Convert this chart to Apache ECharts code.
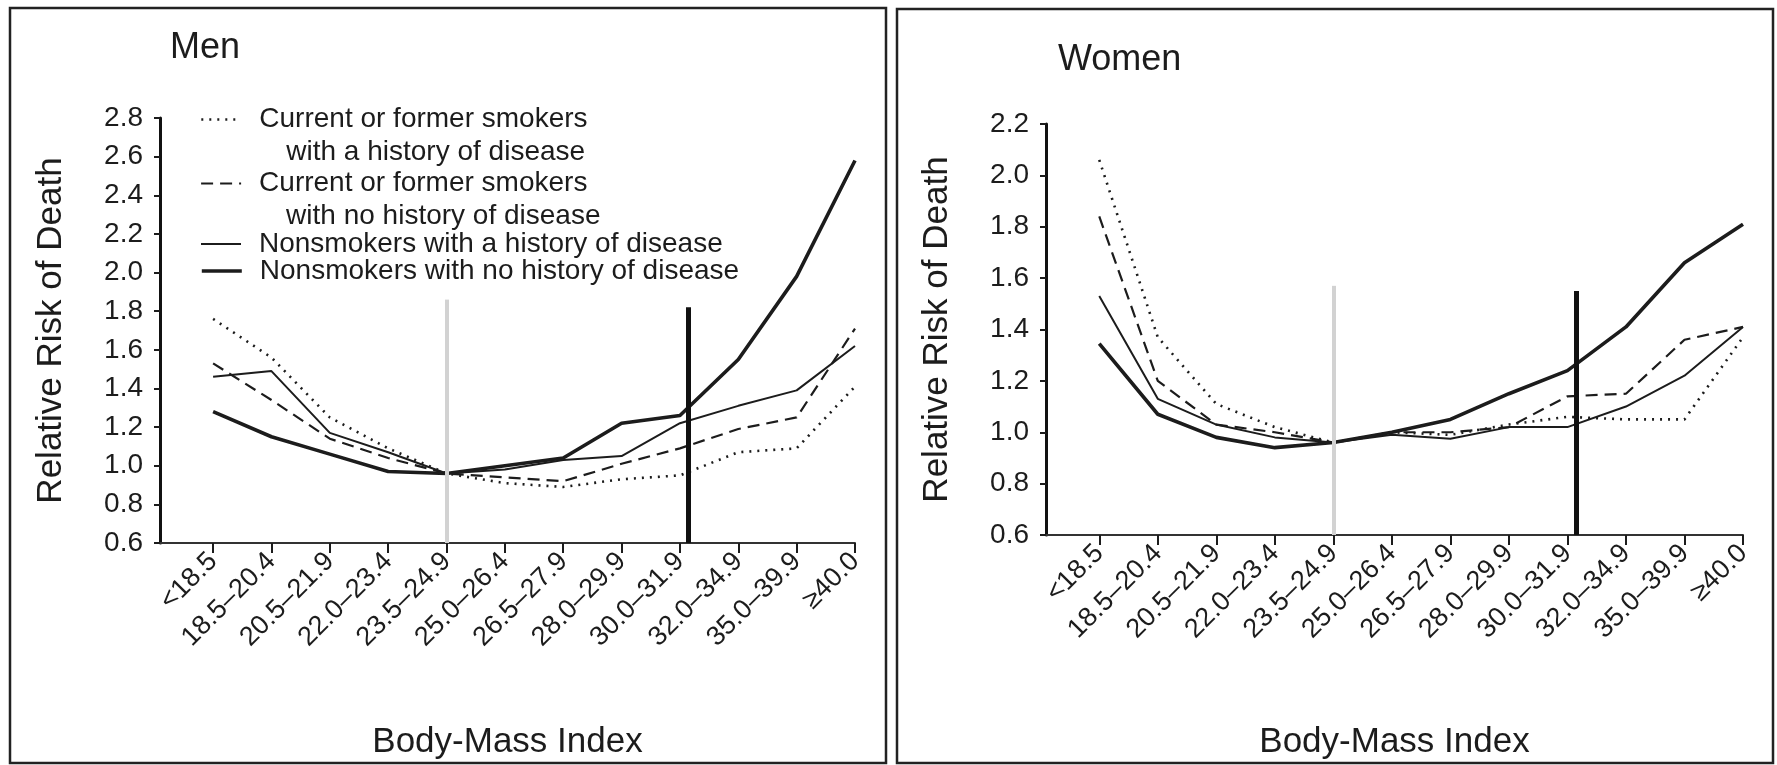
<!DOCTYPE html>
<html>
<head>
<meta charset="utf-8">
<script src="https://cdn.jsdelivr.net/npm/echarts@6/dist/echarts.min.js"></script>
<style>
  html, body { margin: 0; padding: 0; background: #ffffff; }
  #chart { width: 1777px; height: 765px; }
</style>
</head>
<body>
<div id="chart"></div>
<script>
// BMI categories (x axis)
const categories = ['<18.5', '18.5\u201320.4', '20.5\u201321.9', '22.0\u201323.4', '23.5\u201324.9',
  '25.0\u201326.4', '26.5\u201327.9', '28.0\u201329.9', '30.0\u201331.9', '32.0\u201334.9',
  '35.0\u201339.9', '\u226540.0'];

// Group names
const groupNames = [
  'Current or former smokers with a history of disease',
  'Current or former smokers with no history of disease',
  'Nonsmokers with a history of disease',
  'Nonsmokers with no history of disease'
];

// Men: relative risk of death by BMI category
const menSmokersDisease     = [1.76, 1.56, 1.25, 1.09, 0.96, 0.91, 0.89, 0.93, 0.95, 1.07, 1.09, 1.41];
const menSmokersNoDisease   = [1.53, 1.34, 1.14, 1.04, 0.96, 0.94, 0.92, 1.01, 1.09, 1.19, 1.25, 1.71];
const menNonsmokersDisease  = [1.46, 1.49, 1.17, 1.07, 0.96, 0.98, 1.03, 1.05, 1.22, 1.31, 1.39, 1.62];
const menNonsmokersNoDisease= [1.28, 1.15, 1.06, 0.97, 0.96, 1.00, 1.04, 1.22, 1.26, 1.55, 1.98, 2.58];

// Women: relative risk of death by BMI category
const womenSmokersDisease     = [2.06, 1.37, 1.11, 1.02, 0.96, 1.00, 0.99, 1.03, 1.06, 1.05, 1.05, 1.37];
const womenSmokersNoDisease   = [1.84, 1.20, 1.03, 1.00, 0.96, 1.00, 1.00, 1.02, 1.14, 1.15, 1.36, 1.41];
const womenNonsmokersDisease  = [1.53, 1.13, 1.03, 0.98, 0.96, 0.99, 0.975, 1.02, 1.02, 1.10, 1.22, 1.41];
const womenNonsmokersNoDisease= [1.345, 1.07, 0.98, 0.94, 0.96, 1.00, 1.05, 1.15, 1.24, 1.41, 1.66, 1.81];

// Y axis ranges
const menYRange = [0.6, 2.8];
const womenYRange = [0.6, 2.2];
const yStep = 0.2;

// Reference markers: reference BMI band and the obesity threshold bar
const referenceIndex = 4;       // 23.5–24.9
const thresholdIndex = 8.15;    // just past 30.0
const menMarkerTops = { reference: 1.86, threshold: 1.82 };
const womenMarkerTops = { reference: 1.57, threshold: 1.55 };

const FONT = "'Liberation Sans', Arial, Helvetica, sans-serif";
const INK = '#1c1c1c';

const lineStyles = [
  { type: [2, 6], width: 2.6, color: INK },
  { type: [12, 7], width: 2.2, color: INK },
  { type: 'solid', width: 2.0, color: INK },
  { type: 'solid', width: 3.6, color: INK }
];

const tickIdx = categories.map((_, i) => i);

function xAxisFor(gridIndex, nameGap) {
  return {
    type: 'value', gridIndex: gridIndex, min: -0.91, max: 11,
    name: 'Body-Mass Index', nameLocation: 'middle', nameGap: nameGap,
    nameTextStyle: { fontFamily: FONT, fontSize: 35, color: INK },
    axisLine: { show: true, onZero: false, lineStyle: { color: '#333', width: 2 } },
    axisTick: { show: true, customValues: tickIdx, length: 10, lineStyle: { color: INK, width: 2 } },
    axisLabel: {
      customValues: tickIdx, rotate: 45, margin: 14,
      fontFamily: FONT, fontSize: 27, color: INK,
      formatter: v => categories[Math.round(v)] || ''
    },
    splitLine: { show: false }
  };
}

function yAxisFor(gridIndex, range) {
  return {
    type: 'value', gridIndex: gridIndex, min: range[0], max: range[1], interval: yStep,
    name: 'Relative Risk of Death', nameLocation: 'middle', nameGap: 91,
    nameTextStyle: { fontFamily: FONT, fontSize: 35, color: INK },
    axisLine: { show: true, onZero: false, lineStyle: { color: '#111', width: 3 } },
    axisTick: { show: true, length: 6, lineStyle: { color: INK, width: 2 } },
    axisLabel: { margin: 17, fontFamily: FONT, fontSize: 28, color: INK,
      formatter: v => v.toFixed(1) },
    splitLine: { show: false }
  };
}

function markersFor(tops) {
  return {
    silent: true, symbol: 'none', label: { show: false }, animation: false,
    data: [
      [ { coord: [referenceIndex, 0.6], lineStyle: { color: '#d2d2d2', width: 4, type: 'solid' } },
        { coord: [referenceIndex, tops.reference] } ],
      [ { coord: [thresholdIndex, 0.6], lineStyle: { color: '#111', width: 5, type: 'solid' } },
        { coord: [thresholdIndex, tops.threshold] } ]
    ]
  };
}

function seriesFor(gridIndex, arrays, tops) {
  return arrays.map((arr, k) => {
    const s = {
      type: 'line', name: groupNames[k], xAxisIndex: gridIndex, yAxisIndex: gridIndex,
      data: arr.map((v, i) => [i, v]),
      symbol: 'none', showSymbol: false, smooth: false,
      lineStyle: lineStyles[k], itemStyle: { color: INK },
      z: 3
    };
    if (k === 0) s.markLine = markersFor(tops);
    return s;
  });
}

const menSeries = seriesFor(0, [menSmokersDisease, menSmokersNoDisease, menNonsmokersDisease, menNonsmokersNoDisease], menMarkerTops);
const womenSeries = seriesFor(1, [womenSmokersDisease, womenSmokersNoDisease, womenNonsmokersDisease, womenNonsmokersNoDisease], womenMarkerTops);

// Legend: one block per group so each sample line sits beside its first text line
const legendLines = [
  ['Current or former smokers', 'with a history of disease'],
  ['Current or former smokers', 'with no history of disease'],
  ['Nonsmokers with a history of disease'],
  ['Nonsmokers with no history of disease']
];
const legendTops = [105.5, 169.5, 230, 257];
const L2 = 33, L1 = 30;
const legends = groupNames.map((name, k) => {
  const lines = legendLines[k];
  const two = lines.length === 2;
  return {
    data: [name], left: 200, top: legendTops[k], padding: 0,
    orient: 'vertical', selectedMode: false,
    itemWidth: 40, itemHeight: 14,
    itemStyle: { opacity: 0 },
    lineStyle: { width: 'inherit', type: 'inherit', color: 'inherit' },
    formatter: () => two ? '{a|' + lines[0] + '}\n{b|' + lines[1] + '}' : '{a|' + lines[0] + '}',
    textStyle: {
      fontFamily: FONT, fontSize: 28, color: INK,
      padding: two ? [L2, 0, 0, 13] : [0, 0, 0, 13],
      rich: {
        a: { fontFamily: FONT, fontSize: 28, color: INK, lineHeight: two ? L2 : L1 },
        b: { fontFamily: FONT, fontSize: 28, color: INK, lineHeight: L2, padding: [0, 0, 0, 27] }
      }
    }
  };
});

const chart = echarts.init(document.getElementById('chart'), null, { renderer: 'canvas' });
chart.setOption({
  backgroundColor: '#ffffff',
  animation: false,
  textStyle: { fontFamily: FONT },
  title: [
    { text: 'Men', left: 165, top: 25, textStyle: { fontFamily: FONT, fontSize: 36, fontWeight: 'normal', color: INK } },
    { text: 'Women', left: 1053, top: 37, textStyle: { fontFamily: FONT, fontSize: 36, fontWeight: 'normal', color: INK } }
  ],
  legend: legends,
  grid: [
    { left: 160, top: 118, width: 695, height: 425 },
    { left: 1046, top: 124, width: 697, height: 411 }
  ],
  xAxis: [xAxisFor(0, 182), xAxisFor(1, 190)],
  yAxis: [yAxisFor(0, menYRange), yAxisFor(1, womenYRange)],
  series: menSeries.concat(womenSeries),
  graphic: [
    { type: 'rect', silent: true, shape: { x: 10, y: 8, width: 876, height: 755 },
      style: { fill: 'none', stroke: '#222', lineWidth: 2.5 } },
    { type: 'rect', silent: true, shape: { x: 897, y: 9, width: 876, height: 754 },
      style: { fill: 'none', stroke: '#222', lineWidth: 2.5 } }
  ]
});
</script>
</body>
</html>
